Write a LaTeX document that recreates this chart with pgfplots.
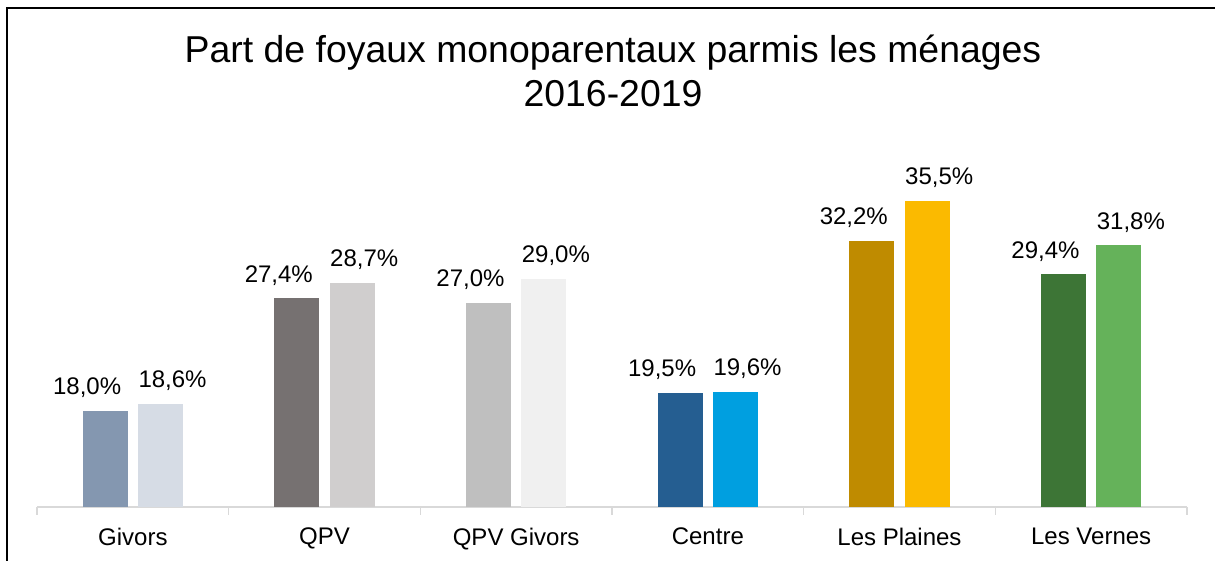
\documentclass[border=0pt]{standalone}
\usepackage{pgfplots}
\pgfplotsset{compat=1.18}
\usepackage{fontspec}
\setmainfont{Liberation Sans}

\definecolor{givA}{HTML}{8497B0}
\definecolor{givB}{HTML}{D6DCE5}
\definecolor{qpvA}{HTML}{767171}
\definecolor{qpvB}{HTML}{D0CECE}
\definecolor{qgA}{HTML}{BFBFBF}
\definecolor{qgB}{HTML}{F0F0F0}
\definecolor{cenA}{HTML}{255E91}
\definecolor{cenB}{HTML}{009FE0}
\definecolor{plaA}{HTML}{BF8B00}
\definecolor{plaB}{HTML}{FBBA00}
\definecolor{verA}{HTML}{3D7536}
\definecolor{verB}{HTML}{65B25A}
\definecolor{axisgray}{HTML}{D9D9D9}

\pgfplotsset{
  left bar/.style={draw=none, bar shift=-13.85pt,
    every node near coord/.append style={xshift=-9pt}},
  right bar/.style={draw=none, bar shift=13.85pt,
    every node near coord/.append style={xshift=6pt}},
}

\begin{document}
\begin{tikzpicture}
\useasboundingbox (0,0) rectangle (607.5pt,280.5pt);
\draw[line width=1pt] (3.5pt,0) -- (3.5pt,276.5pt) -- (607.5pt,276.5pt);
\node[align=center, font=\fontsize{18.7}{22}\selectfont] at (306.5pt,245pt)
  {Part de foyaux monoparentaux parmis les ménages\\2016-2019};

\begin{axis}[
    at={(18.5pt,27pt)}, anchor=south west,
    scale only axis,
    width=575pt, height=180pt,
    xmin=-0.5, xmax=5.5,
    ymin=10, ymax=40,
    axis x line*=bottom,
    axis y line=none,
    axis line style={axisgray, line width=0.8pt},
    xtick={0,...,5},
    xticklabels={Givors, QPV, QPV Givors, Centre, Les Plaines, Les Vernes},
    major tick length=0pt,
    minor xtick={-0.5,0.5,...,5.5},
    minor tick length=4pt,
    tick align=outside,
    minor tick style={axisgray, line width=0.8pt},
    xticklabel style={font=\fontsize{12}{14}\selectfont, yshift=-7pt},
    ybar,
    bar width=22.5pt,
    nodes near coords={\pgfmathprintnumber{\pgfplotspointmeta}\%},
    nodes near coords style={font=\fontsize{12}{14}\selectfont, black, yshift=3pt,
      /pgf/number format/fixed, /pgf/number format/fixed zerofill,
      /pgf/number format/precision=1, /pgf/number format/use comma,
      /pgf/number format/assume math mode=true},
    clip=false,
]
\addplot[fill=givA, left bar] coordinates {(0,18.0)};
\addplot[fill=givB, right bar] coordinates {(0,18.6)};
\addplot[fill=qpvA, left bar] coordinates {(1,27.4)};
\addplot[fill=qpvB, right bar] coordinates {(1,28.7)};
\addplot[fill=qgA, left bar] coordinates {(2,27.0)};
\addplot[fill=qgB, right bar] coordinates {(2,29.0)};
\addplot[fill=cenA, left bar] coordinates {(3,19.5)};
\addplot[fill=cenB, right bar] coordinates {(3,19.6)};
\addplot[fill=plaA, left bar] coordinates {(4,32.2)};
\addplot[fill=plaB, right bar] coordinates {(4,35.5)};
\addplot[fill=verA, left bar] coordinates {(5,29.4)};
\addplot[fill=verB, right bar] coordinates {(5,31.8)};
\end{axis}
\end{tikzpicture}
\end{document}
